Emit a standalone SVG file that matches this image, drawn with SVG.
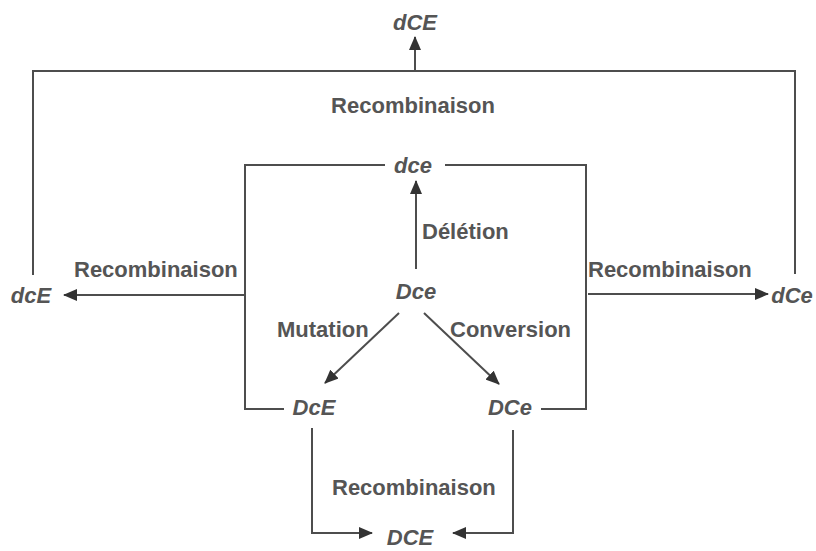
<svg xmlns="http://www.w3.org/2000/svg" width="816" height="551" viewBox="0 0 816 551">
<style>
.lbl{font-family:"Liberation Sans",Arial,sans-serif;font-weight:bold;font-size:22px;fill:#555}
.node{font-family:"Liberation Sans",Arial,sans-serif;font-weight:bold;font-style:italic;font-size:22px;fill:#555;text-anchor:middle}
.ln{fill:none;stroke:#4d4d4d;stroke-width:2}
.ar{fill:none;stroke:#4d4d4d;stroke-width:2;marker-end:url(#ah)}
</style>
<defs>
<marker id="ah" markerUnits="userSpaceOnUse" markerWidth="14" markerHeight="12" viewBox="0 0 14 12" refX="13" refY="6" orient="auto">
<path d="M0,0 L14,6 L0,12 Z" fill="#333"/>
</marker>
</defs>
<rect width="816" height="551" fill="#fff"/>
<g id="connectors">
<path class="ln" d="M33,275 V71 H795 V274"/>
<path class="ar" d="M415,71 V37"/>
<path class="ln" d="M385,165 H245 V409 H284"/>
<path class="ln" d="M445,165 H586 V409 H541"/>
<path class="ar" d="M416,269 V181"/>
<path class="ar" d="M245,295 H64"/>
<path class="ar" d="M588,294 H768"/>
<path class="ar" d="M399,313 L325,383"/>
<path class="ar" d="M424,313 L499,384"/>
<path class="ar" d="M312,428 V533 H372"/>
<path class="ar" d="M513,430 V533 H453"/>
</g>
<g id="labels">
<text class="lbl" x="413" y="113" text-anchor="middle">Recombinaison</text>
<text class="lbl" x="422" y="239">Délétion</text>
<text class="lbl" x="74" y="277">Recombinaison</text>
<text class="lbl" x="588" y="277">Recombinaison</text>
<text class="lbl" x="277" y="337">Mutation</text>
<text class="lbl" x="450" y="337">Conversion</text>
<text class="lbl" x="332" y="495">Recombinaison</text>
</g>
<g id="n-dCE"><text class="node" x="415" y="30">dCE</text></g>
<g id="n-dce"><text class="node" x="413" y="173">dce</text></g>
<g id="n-Dce"><text class="node" x="416" y="299">Dce</text></g>
<g id="n-dcE"><text class="node" x="31" y="303">dcE</text></g>
<g id="n-dCe"><text class="node" x="792" y="303">dCe</text></g>
<g id="n-DcE"><text class="node" x="314" y="415">DcE</text></g>
<g id="n-DCe"><text class="node" x="510" y="415">DCe</text></g>
<g id="n-DCE"><text class="node" x="410" y="545">DCE</text></g>
</svg>
